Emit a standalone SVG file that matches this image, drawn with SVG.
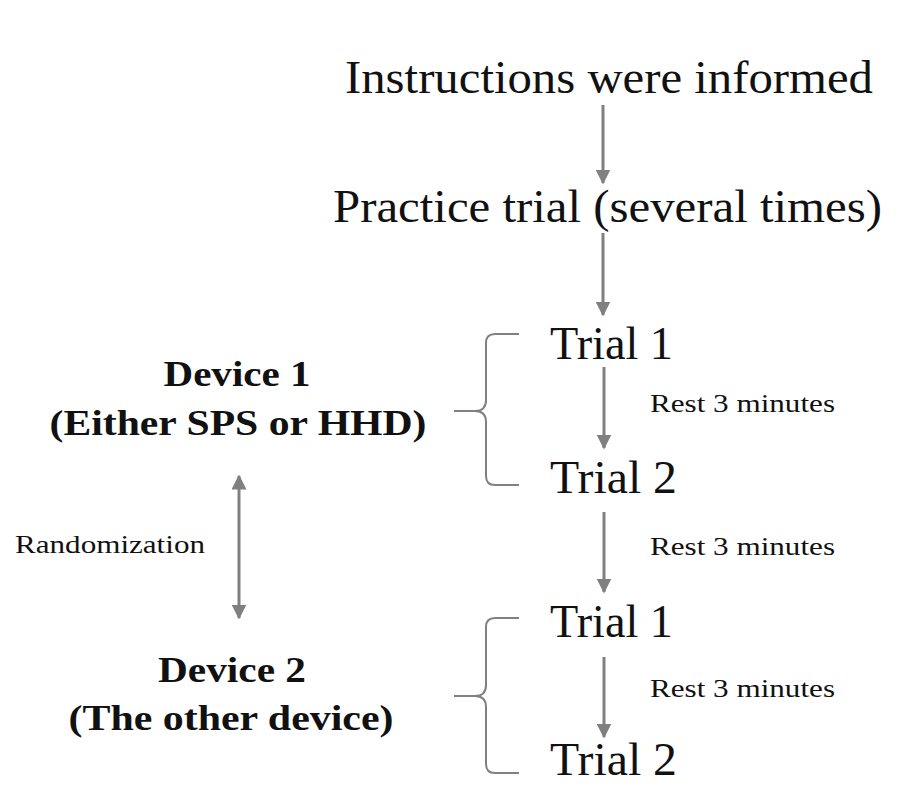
<svg xmlns="http://www.w3.org/2000/svg" width="897" height="801" viewBox="0 0 897 801">
<defs>
<style>
.t{font-family:"Liberation Serif","Times New Roman",serif;fill:#111}
.big{font-size:46px}
.tr{font-size:47px}
.dev{font-size:36px;font-weight:bold;text-anchor:middle}
.sm{font-size:26px}
.ar{stroke:#808080;stroke-width:3;fill:none}
.br{stroke:#808080;stroke-width:2;fill:none}
</style>
<marker id="ah" viewBox="0 0 10 10" refX="9" refY="5" markerWidth="5" markerHeight="5" orient="auto-start-reverse" markerUnits="strokeWidth">
<path d="M0,0 L10,5 L0,10 Z" fill="#808080"/>
</marker>
</defs>
<rect width="897" height="801" fill="#fff"/>
<g id="instructions"><text class="t big" x="345" y="93" textLength="528" lengthAdjust="spacingAndGlyphs">Instructions were informed</text></g>
<g id="practice"><text class="t big" x="333" y="222" textLength="549" lengthAdjust="spacingAndGlyphs">Practice trial (several times)</text></g>
<g id="d1trial1"><text class="t tr" x="550" y="359" textLength="123" lengthAdjust="spacingAndGlyphs">Trial 1</text></g>
<g id="d1trial2"><text class="t tr" x="550" y="493" textLength="127" lengthAdjust="spacingAndGlyphs">Trial 2</text></g>
<g id="d2trial1"><text class="t tr" x="550" y="637" textLength="123" lengthAdjust="spacingAndGlyphs">Trial 1</text></g>
<g id="d2trial2"><text class="t tr" x="550" y="775" textLength="127" lengthAdjust="spacingAndGlyphs">Trial 2</text></g>
<g id="device1"><text class="t dev" x="237" y="386" textLength="147" lengthAdjust="spacingAndGlyphs">Device 1</text><text class="t dev" x="238" y="435" textLength="377" lengthAdjust="spacingAndGlyphs">(Either SPS or HHD)</text>
<path class="br" d="M519,334 L495,334 Q486,334 486,343 L486,400 Q486,411 475,411 L454,411 M475,411 Q486,411 486,422 L486,476 Q486,485 495,485 L519,485"/></g>
<g id="device2"><text class="t dev" x="232" y="682" textLength="148" lengthAdjust="spacingAndGlyphs">Device 2</text><text class="t dev" x="231" y="730" textLength="325" lengthAdjust="spacingAndGlyphs">(The other device)</text>
<path class="br" d="M519,618 L495,618 Q486,618 486,627 L486,685 Q486,696 475,696 L454,696 M475,696 Q486,696 486,707 L486,764 Q486,773 495,773 L519,773"/></g>
<g id="labels">
<text class="t sm" x="650" y="412" textLength="185" lengthAdjust="spacingAndGlyphs">Rest 3 minutes</text>
<text class="t sm" x="650" y="555" textLength="185" lengthAdjust="spacingAndGlyphs">Rest 3 minutes</text>
<text class="t sm" x="650" y="697" textLength="185" lengthAdjust="spacingAndGlyphs">Rest 3 minutes</text>
<text class="t sm" x="15" y="553" textLength="190" lengthAdjust="spacingAndGlyphs">Randomization</text>
</g>
<g id="connectors">
<line class="ar" x1="603" y1="105" x2="603" y2="183" marker-end="url(#ah)"/>
<line class="ar" x1="603" y1="233" x2="603" y2="315" marker-end="url(#ah)"/>
<line class="ar" x1="604" y1="367" x2="604" y2="448" marker-end="url(#ah)"/>
<line class="ar" x1="604" y1="512" x2="604" y2="592" marker-end="url(#ah)"/>
<line class="ar" x1="604" y1="657" x2="604" y2="737" marker-end="url(#ah)"/>
<line class="ar" x1="239" y1="476" x2="239" y2="618" marker-start="url(#ah)" marker-end="url(#ah)"/>
</g>
</svg>
